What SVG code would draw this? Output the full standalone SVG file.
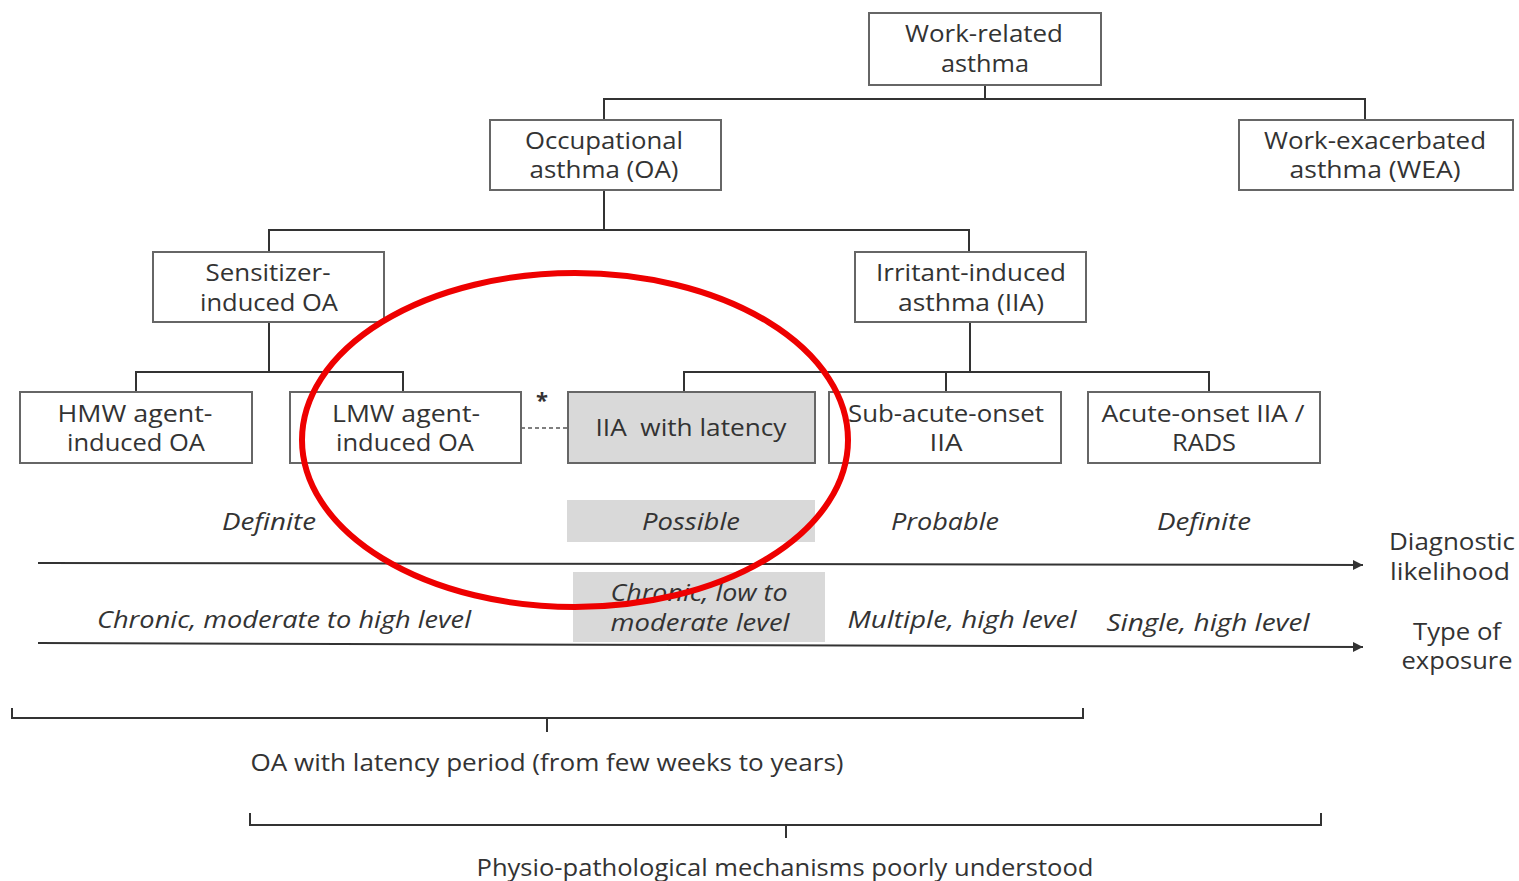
<svg xmlns="http://www.w3.org/2000/svg" width="1519" height="881" viewBox="0 0 1519 881">
<style>
text{font-family:"Open Sans","Liberation Sans",sans-serif;font-size:23px;fill:#333;text-anchor:middle}
.it{font-style:italic}
.box{fill:#fff;stroke:#666;stroke-width:2}
.gbox{fill:#d9d9d9;stroke:#666;stroke-width:2}
.ln{fill:none;stroke:#333;stroke-width:2}
</style>
<defs>
<marker id="arr" markerWidth="12" markerHeight="12" refX="10" refY="5" orient="auto" markerUnits="userSpaceOnUse">
<path d="M0,0 L10,5 L0,10 Z" fill="#333"/>
</marker>
</defs>
<rect width="1519" height="881" fill="#fff"/>
<g id="connectors">
<path class="ln" d="M985,85 V99 M604,120 V99 H1365 V120"/>
<path class="ln" d="M604,190 V230 M269,252 V230 H969 V252"/>
<path class="ln" d="M269,322 V372 M136,392 V372 H403 V392"/>
<path class="ln" d="M970,322 V372 M684,392 V372 H1209 V392 M946,372 V392"/>
<path d="M521,428 H568" stroke="#555" stroke-width="1.5" stroke-dasharray="4,3" fill="none"/>
<text x="542" y="408" style="font-size:22px;font-weight:bold">*</text>
</g>
<g id="n-wra"><rect class="box" x="869" y="13" width="232" height="72"/><text x="984" y="42" textLength="158" lengthAdjust="spacingAndGlyphs">Work-related</text><text x="985" y="72" textLength="88" lengthAdjust="spacingAndGlyphs">asthma</text></g>
<g id="n-oa"><rect class="box" x="490" y="120" width="231" height="70"/><text x="604" y="149" textLength="158" lengthAdjust="spacingAndGlyphs">Occupational</text><text x="604" y="178" textLength="149" lengthAdjust="spacingAndGlyphs">asthma (OA)</text></g>
<g id="n-wea"><rect class="box" x="1239" y="120" width="274" height="70"/><text x="1375" y="149" textLength="222" lengthAdjust="spacingAndGlyphs">Work-exacerbated</text><text x="1375" y="178" textLength="171" lengthAdjust="spacingAndGlyphs">asthma (WEA)</text></g>
<g id="n-sens"><rect class="box" x="153" y="252" width="231" height="70"/><text x="268" y="281" textLength="125" lengthAdjust="spacingAndGlyphs">Sensitizer-</text><text x="269" y="311" textLength="138" lengthAdjust="spacingAndGlyphs">induced OA</text></g>
<g id="n-iia"><rect class="box" x="855" y="252" width="231" height="70"/><text x="971" y="281" textLength="190" lengthAdjust="spacingAndGlyphs">Irritant-induced</text><text x="971" y="311" textLength="146" lengthAdjust="spacingAndGlyphs">asthma (IIA)</text></g>
<g id="n-hmw"><rect class="box" x="20" y="392" width="232" height="71"/><text x="135" y="422" textLength="155" lengthAdjust="spacingAndGlyphs">HMW agent-</text><text x="136" y="451" textLength="138" lengthAdjust="spacingAndGlyphs">induced OA</text></g>
<g id="n-lmw"><rect class="box" x="290" y="392" width="231" height="71"/><text x="406" y="422" textLength="148" lengthAdjust="spacingAndGlyphs">LMW agent-</text><text x="405" y="451" textLength="138" lengthAdjust="spacingAndGlyphs">induced OA</text></g>
<g id="n-lat"><rect class="gbox" x="568" y="392" width="247" height="71"/><text x="691" y="436" textLength="191" lengthAdjust="spacingAndGlyphs" xml:space="preserve">IIA  with latency</text></g>
<g id="n-sub"><rect class="box" x="829" y="392" width="232" height="71"/><text x="946" y="422" textLength="196" lengthAdjust="spacingAndGlyphs">Sub-acute-onset</text><text x="946" y="451" textLength="33" lengthAdjust="spacingAndGlyphs">IIA</text></g>
<g id="n-acute"><rect class="box" x="1088" y="392" width="232" height="71"/><text x="1203" y="422" textLength="203" lengthAdjust="spacingAndGlyphs">Acute-onset IIA /</text><text x="1204" y="451" textLength="64" lengthAdjust="spacingAndGlyphs">RADS</text></g>
<g id="scales">
<rect x="567" y="500" width="248" height="42" fill="#d9d9d9"/>
<text class="it" x="269" y="530" textLength="94" lengthAdjust="spacingAndGlyphs">Definite</text>
<text class="it" x="691" y="530" textLength="98" lengthAdjust="spacingAndGlyphs">Possible</text>
<text class="it" x="945" y="530" textLength="108" lengthAdjust="spacingAndGlyphs">Probable</text>
<text class="it" x="1204" y="530" textLength="94" lengthAdjust="spacingAndGlyphs">Definite</text>
<line class="ln" x1="38" y1="563" x2="1363" y2="565" marker-end="url(#arr)"/>
<text x="1452" y="550" textLength="126" lengthAdjust="spacingAndGlyphs">Diagnostic</text>
<text x="1450" y="580" textLength="120" lengthAdjust="spacingAndGlyphs">likelihood</text>
<rect x="573" y="572" width="252" height="70" fill="#d9d9d9"/>
<text class="it" x="284" y="628" textLength="374" lengthAdjust="spacingAndGlyphs">Chronic, moderate to high level</text>
<text class="it" x="699" y="601" textLength="177" lengthAdjust="spacingAndGlyphs">Chronic, low to</text>
<text class="it" x="700" y="631" textLength="179" lengthAdjust="spacingAndGlyphs">moderate level</text>
<text class="it" x="962" y="628" textLength="229" lengthAdjust="spacingAndGlyphs">Multiple, high level</text>
<text class="it" x="1208" y="631" textLength="203" lengthAdjust="spacingAndGlyphs">Single, high level</text>
<line class="ln" x1="38" y1="643" x2="1363" y2="647" marker-end="url(#arr)"/>
<text x="1457" y="640" textLength="88" lengthAdjust="spacingAndGlyphs">Type of</text>
<text x="1457" y="669" textLength="111" lengthAdjust="spacingAndGlyphs">exposure</text>
</g>
<g id="braces">
<path class="ln" d="M12,708 V718 H1083 V708 M547,718 V732"/>
<text x="547" y="771" textLength="593" lengthAdjust="spacingAndGlyphs">OA with latency period (from few weeks to years)</text>
<path class="ln" d="M250,813 V825 H1321 V813 M786,825 V838"/>
<text x="785" y="876" textLength="617" lengthAdjust="spacingAndGlyphs">Physio-pathological mechanisms poorly understood</text>
</g>
<ellipse cx="575" cy="440" rx="273" ry="167" fill="none" stroke="#e00" stroke-width="6"/>
</svg>
